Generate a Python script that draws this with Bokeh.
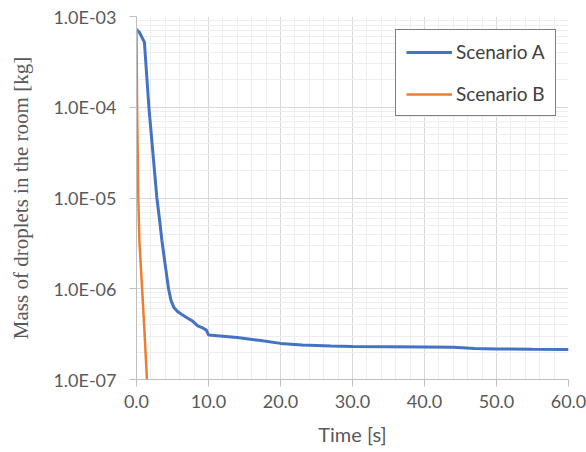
import numpy as np
from bokeh.plotting import figure
from bokeh.models import (FixedTicker, CustomJSTickFormatter, NumeralTickFormatter,
                          Legend, LegendItem, Range1d)
from bokeh.embed import file_html
from bokeh.resources import INLINE

# ---- data ----
time_a = [0, 0.4, 1.1, 1.72, 2.3, 2.83, 3.2, 3.53, 4.0, 4.45, 4.8, 5.2, 5.7, 6.3, 7.0, 7.8,
          8.5, 9.2, 9.7, 10.0, 12, 14, 17, 20, 23, 27, 30, 35, 40, 44, 47, 50, 55, 60]
mass_a = [7.2e-4, 6.7e-4, 5.2e-4, 1.0e-4, 3.0e-5, 1.0e-5, 5.8e-6, 3.4e-6, 1.8e-6, 1.0e-6,
          7.4e-7, 6.2e-7, 5.6e-7, 5.2e-7, 4.8e-7, 4.4e-7, 3.9e-7, 3.7e-7, 3.5e-7, 3.1e-7,
          3.0e-7, 2.9e-7, 2.7e-7, 2.5e-7, 2.4e-7, 2.34e-7, 2.31e-7, 2.3e-7, 2.28e-7, 2.26e-7,
          2.2e-7, 2.17e-7, 2.15e-7, 2.14e-7]

time_b = [0, 0.08, 0.25, 0.4, 0.78, 1.1, 1.45]
mass_b = [7.4e-4, 1.0e-4, 1.0e-5, 3.4e-6, 1.0e-6, 3.5e-7, 1.0e-7]

series_names = ["Scenario A", "Scenario B"]
x_major = [0, 10, 20, 30, 40, 50, 60]
x_minor = [v for v in range(0, 61, 2) if v % 10 != 0]
y_major = [1e-7, 1e-6, 1e-5, 1e-4, 1e-3]
y_minor = [m * d for d in [1e-7, 1e-6, 1e-5, 1e-4] for m in range(2, 10)]

x_title = "Time [s]"
y_title = "Mass of droplets in the room [kg]"

# ---- figure ----
p = figure(width=586, height=452, y_axis_type="log",
           x_range=Range1d(0, 60), y_range=Range1d(1e-7, 1e-3),
           output_backend="svg", toolbar_location=None,
           min_border_left=136, min_border_right=18,
           min_border_top=16, min_border_bottom=73)
p.outline_line_color = None
p.background_fill_color = "white"
p.border_fill_color = "white"

tick_font = "Lato"
label_color = "#595959"
axis_color = "#bfbfbf"

# x axis
p.xaxis.ticker = FixedTicker(ticks=x_major, minor_ticks=x_minor)
p.xaxis.formatter = NumeralTickFormatter(format="0.0")
p.xaxis.axis_label = x_title
p.xaxis.axis_label_text_font = tick_font
p.xaxis.axis_label_text_font_size = "20px"
p.xaxis.axis_label_text_font_style = "normal"
p.xaxis.axis_label_text_color = label_color
p.xaxis.axis_label_standoff = 11
p.xaxis.major_label_standoff = 8

# y axis
p.yaxis.ticker = FixedTicker(ticks=y_major, minor_ticks=y_minor)
p.yaxis.formatter = CustomJSTickFormatter(code=r"""
const s = tick.toExponential(1).toUpperCase();
return s.replace(/E([+-])(\d)$/, (m, a, b) => 'E' + a + '0' + b);
""")
p.yaxis.axis_label = y_title
p.yaxis.axis_label_text_font = "Liberation Serif"
p.yaxis.axis_label_text_font_size = "21px"
p.yaxis.axis_label_text_font_style = "normal"
p.yaxis.axis_label_text_color = label_color
p.yaxis.axis_label_standoff = 17
p.yaxis.major_label_standoff = 13

for ax in (p.xaxis, p.yaxis):
    ax.major_label_text_font = tick_font
    ax.major_label_text_font_size = "18px"
    ax.major_label_text_color = label_color
    ax.axis_line_color = axis_color
    ax.major_tick_line_color = axis_color
    ax.major_tick_out = 7
    ax.major_tick_in = 0
    ax.minor_tick_line_color = None

# grids
for g in (p.xgrid, p.ygrid):
    g.grid_line_color = "#d9d9d9"
    g.grid_line_width = 1
    g.minor_grid_line_color = "#eeeeee"
    g.minor_grid_line_width = 1

# lines
ra = p.line(time_a, mass_a, line_color="#4472C4", line_width=3)
rb = p.line(time_b, mass_b, line_color="#ED7D31", line_width=2.5)

legend = Legend(items=[LegendItem(label=series_names[0], renderers=[ra]),
                       LegendItem(label=series_names[1], renderers=[rb])],
                location=(259, 263))
legend.label_text_font = tick_font
legend.label_text_font_size = "19px"
legend.label_text_color = "#404040"
legend.glyph_width = 46
legend.glyph_height = 20
legend.label_height = 20
legend.label_standoff = 4
legend.spacing = 19
legend.padding = 10
legend.margin = 0
legend.border_line_color = "black"
legend.border_line_width = 1.5
legend.background_fill_color = "white"
legend.background_fill_alpha = 1
p.add_layout(legend, "center")

open("out.html", "w").write(file_html(p, INLINE))
